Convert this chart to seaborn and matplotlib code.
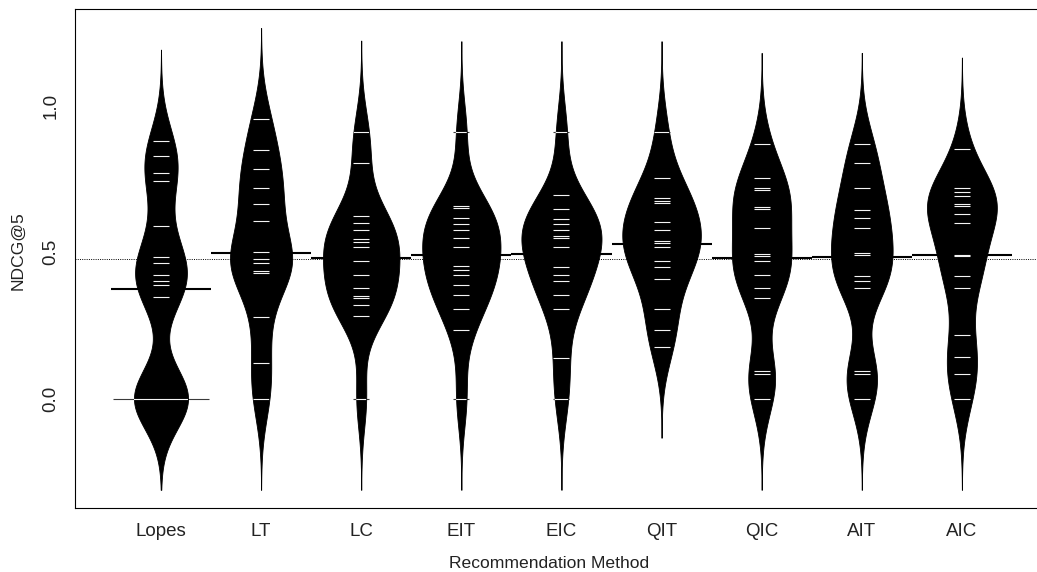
import numpy as np
import pandas as pd
import matplotlib
matplotlib.use("Agg")
import matplotlib.pyplot as plt
import seaborn as sns

methods = ["Lopes", "LT", "LC", "EIT", "EIC", "QIT", "QIC", "AIT", "AIC"]

lopes = [0.881, 0.828, 0.773, 0.745, 0.590, 0.484, 0.463, 0.424, 0.401, 0.388,
         0.347, 0.0, 0.0, 0.0, 0.0, 0.0, 0.0]
lt = [0.955, 0.849, 0.784, 0.720, 0.667, 0.607, 0.500, 0.478, 0.462, 0.437,
      0.428, 0.280, 0.121, 0.0]
lc = [0.912, 0.805, 0.623, 0.601, 0.578, 0.544, 0.535, 0.517, 0.470, 0.421,
      0.377, 0.350, 0.343, 0.321, 0.283, 0.0]
eit = [0.910, 0.660, 0.652, 0.616, 0.596, 0.575, 0.548, 0.518, 0.453, 0.440,
       0.422, 0.390, 0.355, 0.305, 0.234, 0.0]
eic = [0.910, 0.696, 0.648, 0.615, 0.596, 0.575, 0.555, 0.548, 0.518, 0.450,
       0.422, 0.403, 0.355, 0.305, 0.138, 0.0]
qit = [0.910, 0.754, 0.686, 0.675, 0.668, 0.603, 0.575, 0.540, 0.531, 0.518,
       0.469, 0.450, 0.409, 0.305, 0.233, 0.178]
qic = [0.870, 0.754, 0.719, 0.712, 0.654, 0.649, 0.583, 0.496, 0.486, 0.470,
       0.421, 0.378, 0.345, 0.095, 0.084, 0.0]
ait = [0.870, 0.804, 0.719, 0.645, 0.619, 0.583, 0.497, 0.490, 0.420, 0.403,
       0.378, 0.095, 0.084, 0.0]
aic = [0.854, 0.719, 0.708, 0.693, 0.667, 0.658, 0.630, 0.599, 0.492, 0.488,
       0.420, 0.378, 0.216, 0.143, 0.084, 0.0]

# bean averages and overall average
bean_means = [0.375, 0.498, 0.481, 0.490, 0.494, 0.529, 0.481, 0.485, 0.490]
overall_mean = 0.479

yticks = [0.0, 0.5, 1.0]
ytick_labels = ["0.0", "0.5", "1.0"]
xlabel = "Recommendation Method"
ylabel = "NDCG@5"

series = [lopes, lt, lc, eit, eic, qit, qic, ait, aic]
df = pd.DataFrame({
    "method": np.concatenate([[m] * len(v) for m, v in zip(methods, series)]),
    "value": np.concatenate([np.asarray(v, float) for v in series]),
})

# ---- styling ----
sns.set_theme(style="white")
plt.rcParams["font.family"] = ["Liberation Sans", "DejaVu Sans"]
FS = 13.5
FS_LAB = 12.6

BW = 0.104  # common kernel bandwidth for all beans (as in beanplot)


def fixed_bw(kde):
    return BW / np.std(np.asarray(kde.dataset).ravel(), ddof=1)


fig = plt.figure(figsize=(10.37, 5.72), dpi=100)
W, H = 1037, 572
left_px, right_px, top_px, bot_px = 75, 1048, 9, 508.3
ax = fig.add_axes([left_px / W, 1 - bot_px / H,
                   (right_px - left_px) / W, (bot_px - top_px) / H])

# overall average line (dotted)
ax.axhline(overall_mean, color="black", lw=0.7, ls=(0, (1, 1.3)), zorder=0.5)

n_before = len(ax.collections)
sns.violinplot(data=df, x="method", y="value", order=methods, ax=ax,
               color="black", saturation=1, linecolor="black", linewidth=0.6,
               inner=None, cut=3, bw_method=fixed_bw, gridsize=400,
               density_norm="area", width=0.8)
beans = ax.collections[n_before:n_before + len(methods)]

# bean averages
for i, m in enumerate(bean_means):
    ax.hlines(m, i - 0.5, i + 0.5, color="black", lw=1.5, zorder=3)

# bean lines: one per observation (longer for duplicates);
# white inside the bean, dark where they stick out of it
for i, vals in enumerate(series):
    u, c = np.unique(np.round(vals, 3), return_counts=True)
    half = np.minimum(0.08 * c, 0.48)
    ax.hlines(u, i - half, i + half, color="#3a3a3a", lw=0.8, zorder=0.8)
    inner = ax.hlines(u, i - half, i + half, color="#f4f4f4", lw=0.8, zorder=4)
    poly = beans[i]
    inner.set_clip_path(poly.get_paths()[0], poly.get_transform())

ax.set_xlim(-0.859, 8.86)
ax.set_ylim(-0.375, 1.332)
ax.set_yticks(yticks)
ax.set_yticklabels(ytick_labels)
ax.set_xticks(range(len(methods)))
ax.set_xticklabels(methods)

for s in ax.spines.values():
    s.set_color("black")
    s.set_linewidth(0.8)
ax.spines["right"].set_visible(False)

ax.tick_params(axis="both", direction="out", length=5.8, width=0.8,
               color="black", labelsize=FS, labelcolor="#222222")
ax.tick_params(axis="x", pad=5)
ax.tick_params(axis="y", pad=5.5, labelrotation=90)
for lbl in ax.get_yticklabels():
    lbl.set_va("center")

ax.set_xlabel(xlabel, fontsize=FS_LAB, color="#222222")
ax.set_ylabel(ylabel, fontsize=FS_LAB, color="#222222")
ax.xaxis.set_label_coords((549 - left_px) / (right_px - left_px),
                          -(563 - bot_px) / (bot_px - top_px))
ax.xaxis.label.set_va("center")
ax.yaxis.set_label_coords(-(left_px - 18) / (right_px - left_px),
                          (bot_px - 251) / (bot_px - top_px))
ax.yaxis.label.set_va("center")

fig.savefig("out.png", dpi=100)
